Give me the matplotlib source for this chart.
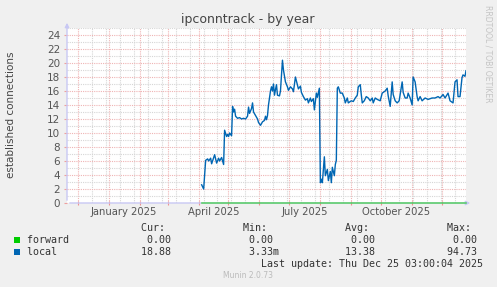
import numpy as np
import pandas as pd
import matplotlib
matplotlib.use('Agg')
import matplotlib.pyplot as plt
import matplotlib.dates as mdates
from matplotlib.patches import Rectangle

# data: days since 2024-11-20 03:00 (graph start), value = established connections
local_day = [135, 137, 139, 141, 142, 144, 145, 147, 148, 150, 152, 153, 155, 157,
             158, 160, 161, 162, 163, 165, 166, 167, 168, 169, 171, 173, 175, 177,
             179, 181, 182, 183, 185, 186, 187, 189, 191, 192, 194, 196, 198, 199,
             200, 201, 202, 204, 205, 206, 207, 208, 209, 210, 211, 213, 214, 216,
             217, 219, 221, 222, 224, 226, 227, 229, 231, 232, 234, 235, 237, 239,
             241, 242, 244, 245, 247, 248, 250, 251, 253, 254, 255, 256, 258, 259,
             261, 262, 264, 265, 266, 268, 269, 270, 271, 272, 274, 276, 278, 279,
             281, 282, 285, 287, 289, 291, 292, 294, 295, 296, 298, 300, 302, 304,
             306, 307, 309, 311, 314, 316, 319, 321, 322, 324, 326, 327, 329, 331,
             333, 336, 337, 339, 341, 342, 344, 346, 347, 349, 351, 352, 354, 356,
             359, 362, 366, 369, 372, 374, 377, 379, 382, 384, 387, 389, 391, 392,
             394, 396, 397, 399, 400]
local_conn = [2.6, 2.0, 6.1, 6.3, 6.0, 6.4, 5.6, 6.5, 6.9, 5.7, 6.4, 6.0, 6.5, 5.5,
              10.4, 9.5, 9.8, 9.5, 10.0, 9.6, 13.8, 13.0, 13.4, 12.4, 12.1, 12.2, 12.0, 12.1,
              12.0, 12.4, 13.7, 12.8, 13.5, 14.3, 13.0, 12.5, 12.0, 11.5, 11.1, 11.6, 11.8, 12.4,
              11.9, 12.5, 14.0, 16.0, 16.6, 16.0, 17.0, 15.4, 16.2, 16.9, 15.4, 15.3, 16.0, 20.4,
              19.0, 17.3, 16.6, 16.1, 16.6, 16.3, 15.9, 18.0, 16.9, 16.3, 16.7, 15.8, 15.2, 14.7,
              14.9, 14.3, 15.0, 14.5, 14.9, 13.3, 15.7, 15.1, 16.4, 2.9, 3.4, 2.9, 6.6, 3.9,
              4.8, 3.2, 4.5, 2.9, 5.1, 3.9, 5.5, 6.1, 16.4, 16.6, 15.7, 15.7, 15.0, 14.3,
              15.0, 14.3, 14.6, 14.5, 15.0, 15.4, 16.6, 16.9, 15.5, 14.3, 14.6, 15.2, 15.0, 14.6,
              15.0, 14.3, 15.0, 14.8, 14.6, 15.7, 16.0, 16.4, 15.3, 13.8, 17.3, 15.5, 14.6, 14.3,
              14.6, 17.3, 15.8, 15.0, 15.0, 15.7, 15.0, 14.0, 18.0, 17.3, 15.2, 14.6, 15.2, 14.6,
              15.0, 14.8, 15.0, 15.0, 15.2, 15.0, 15.5, 15.0, 15.7, 14.6, 14.3, 17.3, 17.6, 15.2,
              15.2, 17.9, 18.3, 18.1, 18.9]
forward_day = [135, 400]
forward_conn = [0.0, 0.0]

series_names = ['forward', 'local']
series_colors = ['#00CC00', '#0066B3']
cur_vals = ['0.00 ', '18.88 ']
min_vals = ['0.00 ', '3.33m']
avg_vals = ['0.00 ', '13.38 ']
max_vals = ['0.00 ', '94.73 ']
label_months = ['2025-01-01', '2025-04-01', '2025-07-01', '2025-10-01']
label_texts = ['January 2025', 'April 2025', 'July 2025', 'October 2025']

start = pd.Timestamp('2024-11-20 03:00')
end = pd.Timestamp('2025-12-25 03:00')

W, H = 497, 287
fig = plt.figure(figsize=(W / 100, H / 100), dpi=100, facecolor='#F0F0F0')
ax = fig.add_axes([67 / W, 84 / H, 399 / W, 175 / H])
ax.set_facecolor('white')

t_local = start + pd.to_timedelta(local_day, unit='D')
t_fwd = start + pd.to_timedelta(forward_day, unit='D')
ax.plot(t_fwd, forward_conn, color=series_colors[0], alpha=0.55, lw=1.2, zorder=3, clip_on=False)
ax.plot(t_local, local_conn, color=series_colors[1], lw=1.0, zorder=4)

ax.set_xlim(start, end)
ax.set_ylim(0, 25)

# red grid at month starts, grey grid every second Sunday
ax.xaxis.set_major_locator(mdates.MonthLocator())
fortnights = pd.date_range('2024-12-01', end, freq='14D')
ax.xaxis.set_minor_locator(plt.FixedLocator(mdates.date2num(fortnights)))
ax.yaxis.set_major_locator(plt.MultipleLocator(2))
ax.yaxis.set_minor_locator(plt.MultipleLocator(1))

ax.set_axisbelow(True)
ax.grid(which='minor', color='#D6D6D6', linestyle=(0, (1, 1)), linewidth=0.8)
ax.grid(which='major', color='#EFB4B4', linestyle=(0, (1, 1)), linewidth=0.8)

ax.tick_params(axis='x', which='major', length=2.5, width=0.8, color='#EE9090',
               direction='inout', labelbottom=False)
ax.tick_params(axis='both', which='minor', length=0)
ax.tick_params(axis='y', which='major', length=2, width=0.8, color='#EEA0A0',
               direction='out', pad=3, labelsize=7.5, labelcolor='#555555')

# month labels centred half a month after the start of the quarter
for m, txt in zip(label_months, label_texts):
    pos = pd.Timestamp(m) + pd.Timedelta(days=15)
    ax.text(pos, -0.05, txt, transform=ax.get_xaxis_transform(), ha='center', va='center',
            fontsize=7.2, color='#555555')

for s in ax.spines.values():
    s.set_visible(False)

axis_col = '#C8C8F4'
ax.annotate('', xy=(0, 1 + 8 / 175), xytext=(0, 0), xycoords='axes fraction',
            arrowprops=dict(arrowstyle='-|>', color=axis_col, lw=1, mutation_scale=6))
ax.annotate('', xy=(1 + 7 / 399, 0), xytext=(0, 0), xycoords='axes fraction',
            arrowprops=dict(arrowstyle='-|>', color=axis_col, lw=1, mutation_scale=6), zorder=2)

fig.text(248 / W, 1 - 19 / H, 'ipconntrack - by year', ha='center', va='center',
         fontsize=9, color='#444444')
fig.text(11 / W, 1 - 115 / H, 'established connections', rotation=90, ha='center',
         va='center', fontsize=7.5, color='#444444')
fig.text(488 / W, 1 - 54 / H, 'RRDTOOL / TOBI OETIKER', rotation=270, ha='center',
         va='center', fontsize=5.5, color='#C4C4C4')
fig.text(248 / W, 1 - 276 / H, 'Munin 2.0.73', ha='center', va='center',
         fontsize=5.5, color='#BBBBBB')

# legend block (monospaced columns like rrdtool)
mono = dict(family='DejaVu Sans Mono', fontsize=7.18, color='#333333', va='center', ha='left')
x0 = 26.7 / W
header = ' ' * 8 + ''.join(f'{h:>17}' for h in ['Cur:  ', 'Min:  ', 'Avg:  ', 'Max:  '])
fig.text(x0, 1 - 228 / H, header, **mono)
rows_y = [240, 252]
for i, name in enumerate(series_names):
    line = f'{name:<8}{cur_vals[i]:>17}{min_vals[i]:>17}{avg_vals[i]:>17}{max_vals[i]:>17}'
    fig.text(x0, 1 - rows_y[i] / H, line, **mono)
    fig.add_artist(Rectangle((14 / W, 1 - (rows_y[i] + 3) / H), 6 / W, 6 / H,
                             transform=fig.transFigure, facecolor=series_colors[i],
                             edgecolor='none'))
fig.text(x0, 1 - 264 / H, f"{'Last update: Thu Dec 25 03:00:04 2025':>76}", **mono)

fig.savefig('out.png', dpi=100, facecolor=fig.get_facecolor())
